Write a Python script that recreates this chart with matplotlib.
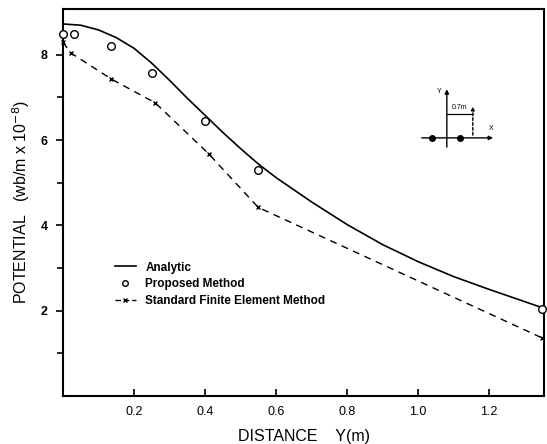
import matplotlib
matplotlib.use("Agg")
import matplotlib.pyplot as plt
from matplotlib.lines import Line2D

plt.rcParams['font.family'] = ['Liberation Sans', 'DejaVu Sans']

# analytic solution
analytic_y = [0.0, 0.05, 0.10, 0.15, 0.20, 0.25, 0.30, 0.35, 0.40, 0.45, 0.50,
              0.55, 0.60, 0.70, 0.80, 0.90, 1.00, 1.10, 1.20, 1.35]
analytic_pot = [8.72, 8.69, 8.58, 8.40, 8.15, 7.80, 7.40, 6.98, 6.58, 6.18, 5.80,
                5.44, 5.12, 4.55, 4.02, 3.55, 3.15, 2.80, 2.50, 2.07]

# proposed method
prop_y = [0.0, 0.03, 0.135, 0.25, 0.40, 0.55, 1.35]
prop_pot = [8.48, 8.48, 8.20, 7.57, 6.45, 5.30, 2.05]

# standard finite element method
fem_y = [0.0, 0.022, 0.136, 0.26, 0.41, 0.55, 1.35]
fem_pot = [8.29, 8.04, 7.43, 6.87, 5.68, 4.42, 1.36]

xtick_vals = [0.2, 0.4, 0.6, 0.8, 1.0, 1.2]
xtick_labels = ["0.2", "0.4", "0.6", "0.8", "1.0", "1.2"]
ytick_vals = [2, 4, 6, 8]

fig = plt.figure(figsize=(5.47, 4.44), dpi=100)
ax = fig.add_axes([0.1152, 0.1081, 0.8793, 0.8716])

ax.plot(analytic_y, analytic_pot, color="black", lw=1.2)
ax.plot(prop_y, prop_pot, linestyle="none", marker="o", ms=5.5, mfc="white",
        mec="black", mew=1.0, clip_on=False, zorder=3)
ax.plot(fem_y, fem_pot, color="black", lw=1.0, linestyle=(0, (5, 4)),
        marker="x", ms=3.5, mew=1.0, clip_on=False)

ax.set_xlim(0, 1.355)
ax.set_ylim(0, 9.07)

ax.set_xticks(xtick_vals)
ax.set_xticklabels(xtick_labels)
ax.set_yticks(ytick_vals)
ax.set_yticks([1, 3, 5, 7], minor=True)
ax.tick_params(axis="x", direction="in", length=5, width=1.2, pad=7, labelsize=9)
ax.tick_params(axis="y", which="major", direction="out", length=5, width=1.2,
               pad=6, labelsize=9)
ax.tick_params(axis="y", which="minor", direction="out", length=4, width=1.2)
for lab in ax.get_yticklabels():
    lab.set_fontweight("bold")
for s in ax.spines.values():
    s.set_linewidth(1.5)

ax.set_xlabel("DISTANCE    Y(m)", fontsize=11.5, labelpad=8)
ax.set_ylabel(r"POTENTIAL   (wb/m x 10$^{-8}$)", fontsize=11.5, labelpad=6)

handles = [
    Line2D([], [], color="black", lw=1.2),
    Line2D([], [], linestyle="none", marker="o", ms=4, mfc="white", mec="black"),
    Line2D([], [], color="black", lw=1.0, linestyle=(0, (4, 2)), marker="x", ms=3.5),
]
ax.legend(handles, ["Analytic", "Proposed Method", "Standard Finite Element Method"],
          loc="upper left", bbox_to_anchor=(0.085, 0.375), frameon=False,
          handlelength=1.8, handletextpad=0.8, labelspacing=0.4,
          prop={"size": 8.5, "weight": "bold"})

# small sketch of the geometry in the upper right
tr = ax.transAxes
ax.annotate("", xy=(0.798, 0.80), xytext=(0.798, 0.636), xycoords=tr,
            arrowprops=dict(arrowstyle="-|>", color="black", lw=1.0,
                            mutation_scale=6))
ax.annotate("", xy=(0.90, 0.667), xytext=(0.740, 0.667), xycoords=tr,
            arrowprops=dict(arrowstyle="-|>", color="black", lw=1.0,
                            mutation_scale=6))
ax.plot([0.767, 0.825], [0.667, 0.667], linestyle="none", marker="o", ms=4,
        color="black", transform=tr)
ax.annotate("", xy=(0.852, 0.755), xytext=(0.852, 0.667), xycoords=tr,
            arrowprops=dict(arrowstyle="-|>", color="black", lw=1.0,
                            linestyle=(0, (2, 1.5)), mutation_scale=5))
ax.plot([0.798, 0.852], [0.729, 0.729], color="black", lw=0.9, transform=tr)
ax.text(0.825, 0.737, "0.7m", transform=tr, fontsize=5, ha="center", va="bottom")
ax.text(0.782, 0.786, "Y", transform=tr, fontsize=5, ha="center", va="center")
ax.text(0.890, 0.690, "X", transform=tr, fontsize=5, ha="center", va="center")

fig.savefig("out.png", dpi=100)
